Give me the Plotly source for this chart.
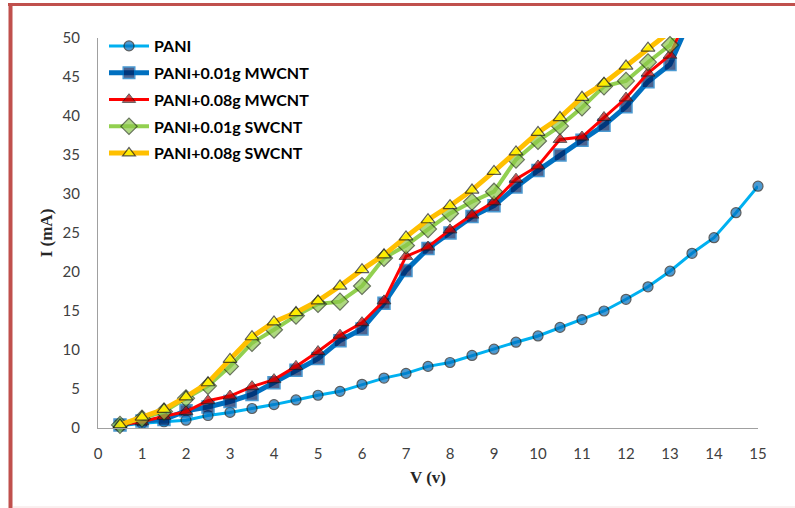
import plotly.graph_objects as go

V = [0.5, 1, 1.5, 2, 2.5, 3, 3.5, 4, 4.5, 5, 5.5, 6, 6.5, 7, 7.5, 8, 8.5, 9, 9.5, 10,
     10.5, 11, 11.5, 12, 12.5, 13, 13.5, 14, 14.5, 15]

pani = [0.3, 0.6, 0.8, 1.0, 1.6, 2.0, 2.5, 3.0, 3.6, 4.2, 4.7, 5.6, 6.4, 7.0, 7.9,
        8.4, 9.3, 10.1, 11.0, 11.8, 12.9, 13.9, 15.0, 16.5, 18.1, 20.1, 22.4, 24.4, 27.6, 31.0]
mw001 = [0.4, 0.9, 1.1, 2.2, 2.7, 3.4, 4.3, 5.8, 7.4, 8.9, 11.2, 12.7, 16.0, 20.2, 23.0,
         25.0, 27.1, 28.5, 30.9, 33.0, 35.0, 36.9, 38.8, 41.2, 44.4, 46.6, 53.0]
mw008 = [0.4, 0.8, 1.5, 2.1, 3.5, 4.1, 5.3, 6.2, 7.9, 9.8, 11.9, 13.5, 16.3, 22.0, 23.2,
         25.4, 27.3, 29.0, 31.9, 33.6, 37.0, 37.3, 39.8, 42.3, 45.5, 47.8, 54.3]
sw001 = [0.4, 1.2, 2.1, 3.8, 5.4, 7.9, 10.9, 12.6, 14.4, 15.9, 16.2, 18.2, 21.8, 23.4, 25.5,
         27.5, 29.0, 30.3, 34.4, 36.8, 38.7, 41.1, 43.8, 44.5, 46.9, 49.1, 54.8]
sw008 = [0.4, 1.4, 2.4, 4.0, 5.8, 8.8, 11.7, 13.6, 14.8, 16.3, 18.2, 20.3, 22.2, 24.5, 26.7,
         28.5, 30.5, 32.9, 35.4, 37.9, 39.8, 42.4, 44.2, 46.4, 48.7, 50.8, 54.5]

names = ["PANI", "PANI+0.01g MWCNT", "PANI+0.08g MWCNT", "PANI+0.01g SWCNT", "PANI+0.08g SWCNT"]
x_ticks = list(range(0, 16))
y_ticks = list(range(0, 51, 5))

YMAX = 50

styles = [
    dict(data=pani, line=dict(color="#00B0F0", width=3),
         marker=dict(symbol="circle", color="#0070C0", size=10, line=dict(color="#1a1a1a", width=1.2))),
    dict(data=mw001, line=dict(color="#0070C0", width=5),
         marker=dict(symbol="square", color="#002060", size=12, line=dict(color="#0070C0", width=1.5))),
    dict(data=mw008, line=dict(color="#FF0000", width=3),
         marker=dict(symbol="triangle-up", color="#C00000", size=12, line=dict(color="#1a1a1a", width=1))),
    dict(data=sw001, line=dict(color="#92D050", width=4),
         marker=dict(symbol="diamond", color="#8CC84B", size=13, line=dict(color="#2a3a1a", width=1.2))),
    dict(data=sw008, line=dict(color="#FFC000", width=5),
         marker=dict(symbol="triangle-up", color="#FFFF00", size=12, line=dict(color="#1a1a1a", width=1.2))),
]

fig = go.Figure()
for i, (nm, st) in enumerate(zip(names, styles)):
    vals = st["data"]
    mk = dict(st["marker"])
    mk["size"] = [mk["size"] if v <= YMAX else 0 for v in vals]
    fig.add_trace(go.Scatter(
        x=V[:len(vals)], y=vals, name=nm, mode="lines+markers",
        line=st["line"], marker=mk, cliponaxis=False, legendgroup=f"g{i}",
    ))

W, H = 795, 508
L, R, T, B = 98, 758, 38, 428
pw, ph = R - L, B - T

def px(x):
    return (x - L) / pw

def py(y):
    return (B - y) / ph

frame = "#C0504D"
shapes = [
    dict(type="line", xref="paper", yref="paper", x0=px(8), x1=px(795), y0=py(4.5), y1=py(4.5),
         line=dict(color=frame, width=3)),
    dict(type="line", xref="paper", yref="paper", x0=px(10.5), x1=px(10.5), y0=py(3), y1=py(508),
         line=dict(color=frame, width=4)),
    dict(type="line", xref="paper", yref="paper", x0=px(13), x1=px(795), y0=py(507), y1=py(507),
         line=dict(color="#F4E0E0", width=1)),
]

fig.update_layout(
    width=W, height=H,
    margin=dict(l=L, r=W - R, t=T, b=H - B),
    paper_bgcolor="white", plot_bgcolor="white",
    shapes=shapes,
    showlegend=True,
    legend=dict(x=px(104), y=py(29), xanchor="left", yanchor="top",
                font=dict(family="Lato", size=16, color="#000000", weight="bold"),
                bgcolor="rgba(0,0,0,0)", tracegroupgap=3, itemwidth=40),
    xaxis=dict(range=[0, 15], tickvals=x_ticks, showgrid=False, zeroline=False,
               showline=True, linecolor="#A0A0A0", linewidth=1, ticks="",
               ticklabelstandoff=12,
               tickfont=dict(family="Lato", size=15, color="#404040"),
               title=dict(text="<b>V (v)</b>", standoff=10,
                          font=dict(family="Liberation Serif", size=17, color="#262626"))),
    yaxis=dict(range=[0, 50], tickvals=y_ticks, showgrid=False, zeroline=False,
               showline=True, linecolor="#A0A0A0", linewidth=1, ticks="",
               ticklabelstandoff=14,
               tickfont=dict(family="Lato", size=15, color="#404040"),
               title=dict(text="<b>I (mA)</b>", standoff=5,
                          font=dict(family="Liberation Serif", size=17, color="#262626"))),
)

fig.write_html("out.html", config={"displayModeBar": False},
               post_script="document.body.style.margin='0px';document.body.style.overflow='hidden';")
